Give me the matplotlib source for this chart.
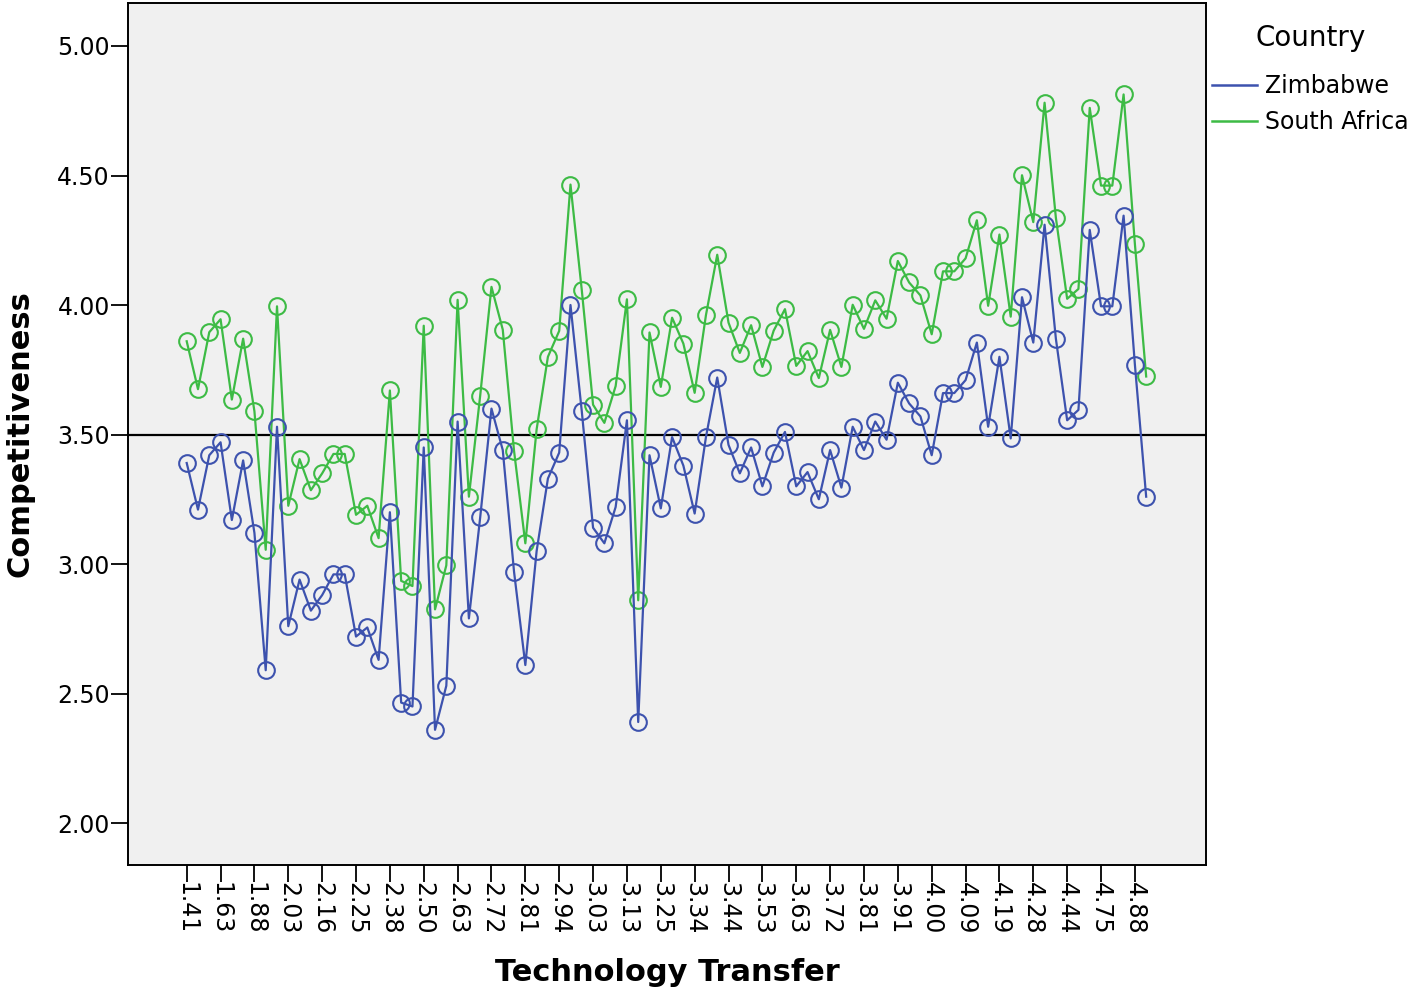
import matplotlib.pyplot as plt
import numpy as np
from matplotlib.lines import Line2D

plt.rcParams['font.family'] = ['DejaVu Sans']

# category labels shown on the x axis (every third category is labelled)
tick_labels = ['1.41', '1.63', '1.88', '2.03', '2.16', '2.25', '2.38', '2.50',
               '2.63', '2.72', '2.81', '2.94', '3.03', '3.13', '3.25', '3.34',
               '3.44', '3.53', '3.63', '3.72', '3.81', '3.91', '4.00', '4.09',
               '4.19', '4.28', '4.44', '4.75', '4.88']

zimbabwe = [3.39, 3.21, 3.42, 3.47, 3.17, 3.40, 3.12, 2.59, 3.53, 2.76,
            2.94, 2.82, 2.88, 2.96, 2.96, 2.72, 2.755, 2.63, 3.20, 2.465,
            2.45, 3.45, 2.36, 2.53, 3.55, 2.79, 3.18, 3.60, 3.44, 2.97,
            2.61, 3.05, 3.33, 3.43, 4.00, 3.59, 3.14, 3.08, 3.22, 3.555,
            2.39, 3.42, 3.215, 3.49, 3.38, 3.195, 3.49, 3.72, 3.46, 3.35,
            3.45, 3.30, 3.43, 3.51, 3.30, 3.355, 3.25, 3.44, 3.295, 3.53,
            3.44, 3.55, 3.48, 3.70, 3.62, 3.57, 3.42, 3.66, 3.66, 3.71,
            3.855, 3.53, 3.80, 3.485, 4.03, 3.855, 4.31, 3.87, 3.555, 3.595,
            4.29, 3.995, 3.995, 4.345, 3.77, 3.26]

south_africa = [3.86, 3.675, 3.895, 3.945, 3.635, 3.87, 3.59, 3.055, 3.995, 3.225,
                3.405, 3.285, 3.35, 3.425, 3.425, 3.19, 3.225, 3.10, 3.67, 2.935,
                2.915, 3.92, 2.825, 2.995, 4.02, 3.26, 3.65, 4.07, 3.905, 3.437,
                3.08, 3.52, 3.80, 3.90, 4.465, 4.058, 3.615, 3.545, 3.687, 4.022,
                2.86, 3.894, 3.684, 3.951, 3.851, 3.661, 3.961, 4.194, 3.932, 3.815,
                3.922, 3.761, 3.901, 3.984, 3.765, 3.822, 3.718, 3.904, 3.761, 4.001,
                3.908, 4.018, 3.947, 4.170, 4.087, 4.037, 3.887, 4.130, 4.130, 4.180,
                4.327, 3.997, 4.272, 3.955, 4.501, 4.320, 4.781, 4.337, 4.024, 4.062,
                4.761, 4.461, 4.461, 4.813, 4.236, 3.724]

ref_value = 3.50
blue = '#3D52AE'
green = '#3DBB45'

x = np.arange(len(zimbabwe))

fig = plt.figure(figsize=(14.16, 9.98), dpi=100)
ax = fig.add_axes([128/1416, 1 - 865/998, (1206-128)/1416, (865-3)/998])
ax.set_facecolor('#F0F0F0')

ax.axhline(ref_value, color='black', lw=1.6, zorder=1)
ax.plot(x, zimbabwe, color=blue, lw=1.6, marker='o', ms=12, mfc='none',
        mec=blue, mew=1.5, zorder=3)
ax.plot(x, south_africa, color=green, lw=1.6, marker='o', ms=12, mfc='none',
        mec=green, mew=1.5, zorder=2)

ax.set_xlim(-5.2, 90.3)
ax.set_ylim(1.838, 5.166)
yt = np.arange(2.0, 5.01, 0.5)
ax.set_yticks(yt)
ax.set_yticklabels([f'{v:.2f}' for v in yt], fontsize=17)
ax.set_xticks(x[::3])
ax.set_xticklabels(tick_labels, rotation=270, fontsize=17)
ax.tick_params(axis='both', direction='out', length=12, width=1.3, color='black')
ax.tick_params(axis='x', pad=0)
ax.tick_params(axis='y', pad=1)
for s in ax.spines.values():
    s.set_linewidth(1.4)

ax.set_xlabel('Technology Transfer', fontsize=22, fontweight='bold')
ax.xaxis.set_label_coords(0.5, -(958 - 865) / 862)
ax.set_ylabel('Competitiveness', fontsize=22, fontweight='bold')
ax.yaxis.set_label_coords((35 - 128) / 1078, 0.5)

handles = [Line2D([], [], color=blue, lw=1.8), Line2D([], [], color=green, lw=1.8)]
leg = fig.legend(handles, ['Zimbabwe', 'South Africa'], title='Country',
                 loc='upper left', bbox_to_anchor=(1212/1416, 1 - 24/998),
                 frameon=False, fontsize=17, title_fontsize=20,
                 borderpad=0, borderaxespad=0,
                 handlelength=1.9, handletextpad=0.34, labelspacing=0.5)
leg._legend_box.sep = 16

fig.savefig('out.png', dpi=100)
